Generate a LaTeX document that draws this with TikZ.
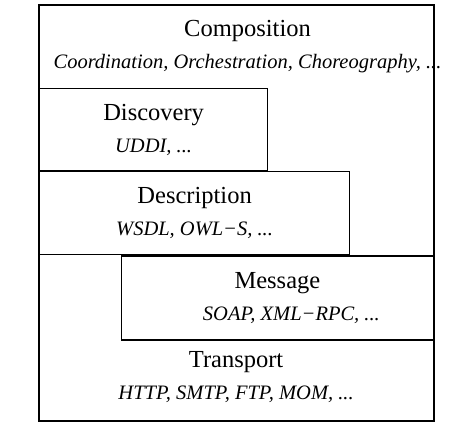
\documentclass[tikz,border=0pt]{standalone}
\usepackage{fontspec}
\setmainfont{Liberation Serif}
\usetikzlibrary{positioning}

% examples listed under a layer name
\newcommand{\layerex}[1]{{\fontsize{20.5}{24}\selectfont\itshape #1}}

\begin{document}
\begin{tikzpicture}

  % --- styles ---
  \tikzset{
    % one layer of the stack: thin black frame, two lines of text
    layerbox/.style={
      draw=black,
      line width=1.2pt,
      fill=white,
      text=black,
      font=\fontsize{24.5}{29}\selectfont,
      align=center,
      anchor=north west,
      inner sep=0pt
    },
    % a layer drawn by the outer frame only
    layerarea/.style={
      layerbox,
      draw=none,
      fill=none
    },
    % the big outer frame
    outerframe/.style={
      draw=black,
      line width=2pt,
      inner sep=0pt,
      anchor=north west
    }
  }

  \useasboundingbox (0pt,0pt) rectangle (474pt,-428pt);

  % --- outer frame (its border is drawn at the end) ---
  \node[outerframe, draw=none, minimum width=393pt, minimum height=414pt] (frame) at (39pt,-5pt) {};

  % 1. Composition
  \node[layerarea, anchor=north, below=15pt of frame.north, xshift=11pt] (compo)
    {Composition\\[3pt]\layerex{Coordination, Orchestration, Choreography, ...}};

  % 2. Discovery
  \node[layerbox, below right=83pt and 0pt of frame.north west, minimum width=228pt, minimum height=82pt] (discovery)
    {Discovery\\[3pt]\layerex{UDDI, ...}};

  % 3. Description
  \node[layerbox, below right=0pt of discovery.south west, minimum width=310pt, minimum height=83pt] (description)
    {Description\\[3pt]\layerex{WSDL, OWL−S, ...}};

  % 4. Message (stuck to the right side)
  \coordinate (msgNE) at (frame.east |- description.south);
  \node[layerbox, anchor=north east, below left=0pt of msgNE, minimum width=312pt, minimum height=84pt] (message)
    {Message\\[3pt]\hspace*{28pt}\layerex{SOAP, XML−RPC, ...}};

  % 5. Transport (bottom of the frame)
  \coordinate (trNW) at (frame.west |- message.south);
  \node[layerarea, below right=0pt of trNW, yshift=5pt, minimum width=393pt, minimum height=82pt] (transport)
    {Transport\\[3pt]\layerex{HTTP, SMTP, FTP, MOM, ...}};

  % --- outer border on top ---
  \draw[line width=2pt] (frame.north west) rectangle (frame.south east);

\end{tikzpicture}
\end{document}
